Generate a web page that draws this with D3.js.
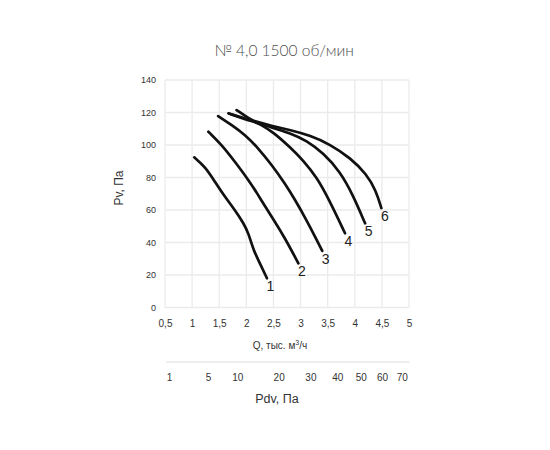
<!DOCTYPE html>
<html>
<head>
<meta charset="utf-8">
<script src="https://cdn.jsdelivr.net/npm/d3@7"></script>
<style>
  html, body { margin: 0; padding: 0; background: #fff; }
  svg { display: block; }
</style>
</head>
<body>
<svg id="chart" width="550" height="450"></svg>
<script>
// ---- data ----
const title = "№ 4,0 1500 об/мин";
const qTicks = [0.5, 1, 1.5, 2, 2.5, 3, 3.5, 4, 4.5, 5];
const pvTicks = [0, 20, 40, 60, 80, 100, 120, 140];
const pdvTicks = [1, 5, 10, 20, 30, 40, 50, 60, 70];
const curveNames = ["1", "2", "3", "4", "5", "6"];
// Q (тыс. м³/ч) and Pv (Па) for each curve
const curve1Q = [1.04, 1.24, 1.42, 1.58, 1.79, 1.95, 2.04, 2.13, 2.25, 2.38];
const curve1P = [92.4, 86.6, 77.4, 69.2, 60.0, 51.8, 45.7, 35.4, 27.2, 18.0];
const curve2Q = [1.30, 1.55, 1.79, 2.04, 2.22, 2.34, 2.53, 2.71, 2.96];
const curve2P = [108.2, 100.0, 89.7, 78.5, 69.2, 62.5, 52.6, 42.8, 27.2];
const curve3Q = [1.48, 1.73, 1.98, 2.22, 2.47, 2.71, 2.90, 3.11, 3.30, 3.40];
const curve3P = [117.8, 112.3, 106.2, 98.0, 87.7, 76.4, 66.2, 53.8, 41.5, 34.8];
const curve4Q = [1.82, 2.04, 2.28, 2.50, 2.81, 3.05, 3.30, 3.51, 3.82];
const curve4P = [121.5, 116.4, 112.3, 107.8, 98.5, 90.5, 80.0, 67.4, 45.7];
const curve5Q = [1.67, 2.10, 2.47, 2.81, 3.11, 3.42, 3.73, 3.97, 4.19];
const curve5P = [119.5, 114.5, 110.8, 107.2, 102.8, 95.0, 83.6, 69.0, 51.8];
const curve6Q = [1.69, 2.10, 2.47, 2.81, 3.18, 3.54, 3.92, 4.22, 4.39, 4.49];
const curve6P = [119.2, 115.1, 111.7, 109.2, 105.8, 100.5, 92.0, 82.0, 72.0, 61.2];

const curvesQ = [curve1Q, curve2Q, curve3Q, curve4Q, curve5Q, curve6Q];
const curvesP = [curve1P, curve2P, curve3P, curve4P, curve5P, curve6P];
const series = curveNames.map((n, i) => ({
  name: n,
  pts: curvesQ[i].map((q, j) => ({ q: q, p: curvesP[i][j] }))
}));

// ---- layout ----
const svg = d3.select("#chart");
const x = d3.scaleLinear().domain([0.5, 5]).range([165, 409]);
const y = d3.scaleLinear().domain([0, 140]).range([307.5, 80]);
const xPdv = d3.scaleSqrt().domain([1, 70]).range([169, 401.7]);

const tickFont = "Liberation Sans, Arial, sans-serif";

// title
svg.append("text")
  .attr("x", 284).attr("y", 56)
  .attr("text-anchor", "middle")
  .attr("font-family", "Lato, sans-serif")
  .attr("font-weight", 300)
  .attr("font-size", 15.5)
  .attr("fill", "#4d4d4d")
  .text(title);

// grid
const grid = svg.append("g");
grid.selectAll("line.v").data(qTicks).join("line")
  .attr("x1", d => x(d)).attr("x2", d => x(d))
  .attr("y1", y(140)).attr("y2", y(0))
  .attr("stroke", "#ebebeb").attr("stroke-width", 1.3);
grid.selectAll("line.h").data(pvTicks).join("line")
  .attr("x1", x(0.5)).attr("x2", x(5))
  .attr("y1", d => y(d)).attr("y2", d => y(d))
  .attr("stroke", "#ebebeb").attr("stroke-width", 1.3);

// y axis
const yAxis = d3.axisLeft(y).tickValues(pvTicks).tickSize(0).tickPadding(9);
const gy = svg.append("g").attr("transform", `translate(${x(0.5)},0)`).call(yAxis);
gy.select(".domain").remove();
gy.selectAll("text").attr("font-family", tickFont).attr("font-size", 9).attr("fill", "#333");

// x axis
const fmt = d => String(d).replace(".", ",");
const xAxis = d3.axisBottom(x).tickValues(qTicks).tickSize(0).tickPadding(12).tickFormat(fmt);
const gx = svg.append("g").attr("transform", `translate(0,${y(0)})`).call(xAxis);
gx.select(".domain").remove();
gx.selectAll("text").attr("font-family", tickFont).attr("font-size", 10).attr("fill", "#333");

// axis titles
svg.append("text")
  .attr("transform", `translate(123,188) rotate(-90)`)
  .attr("text-anchor", "middle")
  .attr("font-family", tickFont).attr("font-size", 12).attr("fill", "#333")
  .text("Pv, Па");
const ql = svg.append("text")
  .attr("x", 280).attr("y", 349)
  .attr("text-anchor", "middle")
  .attr("font-family", tickFont).attr("font-size", 10).attr("fill", "#333");
ql.append("tspan").text("Q, тыс. м");
ql.append("tspan").attr("dy", -4).attr("font-size", 7).text("3");
ql.append("tspan").attr("dy", 4).text("/ч");

// Pdv axis
const pdvAxis = d3.axisBottom(xPdv).tickValues(pdvTicks).tickSize(0).tickPadding(12).tickFormat(d3.format("d"));
const gp = svg.append("g").attr("transform", "translate(0,362)").call(pdvAxis);
gp.select(".domain").remove();
gp.append("line").attr("x1", 166).attr("x2", 409.5).attr("y1", 0).attr("y2", 0)
  .attr("stroke", "#dcdcdc").attr("stroke-width", 1);
gp.selectAll("text").attr("font-family", tickFont).attr("font-size", 10).attr("fill", "#333");

svg.append("text")
  .attr("x", 277).attr("y", 403)
  .attr("text-anchor", "middle")
  .attr("font-family", tickFont).attr("font-size", 12.5).attr("fill", "#333")
  .text("Pdv, Па");

// curves
const line = d3.line().x(d => x(d.q)).y(d => y(d.p)).curve(d3.curveBasis);
const gc = svg.append("g");
gc.selectAll("path").data(series).join("path")
  .attr("d", d => line(d.pts))
  .attr("fill", "none")
  .attr("stroke", "#111")
  .attr("stroke-width", 2.7)
  .attr("stroke-linecap", "round");

gc.selectAll("text").data(series).join("text")
  .attr("x", d => x(d.pts[d.pts.length - 1].q) + 3.5)
  .attr("y", d => y(d.pts[d.pts.length - 1].p) + 13)
  .attr("text-anchor", "middle")
  .attr("font-family", tickFont).attr("font-size", 14).attr("fill", "#222")
  .text(d => d.name);
</script>
</body>
</html>
